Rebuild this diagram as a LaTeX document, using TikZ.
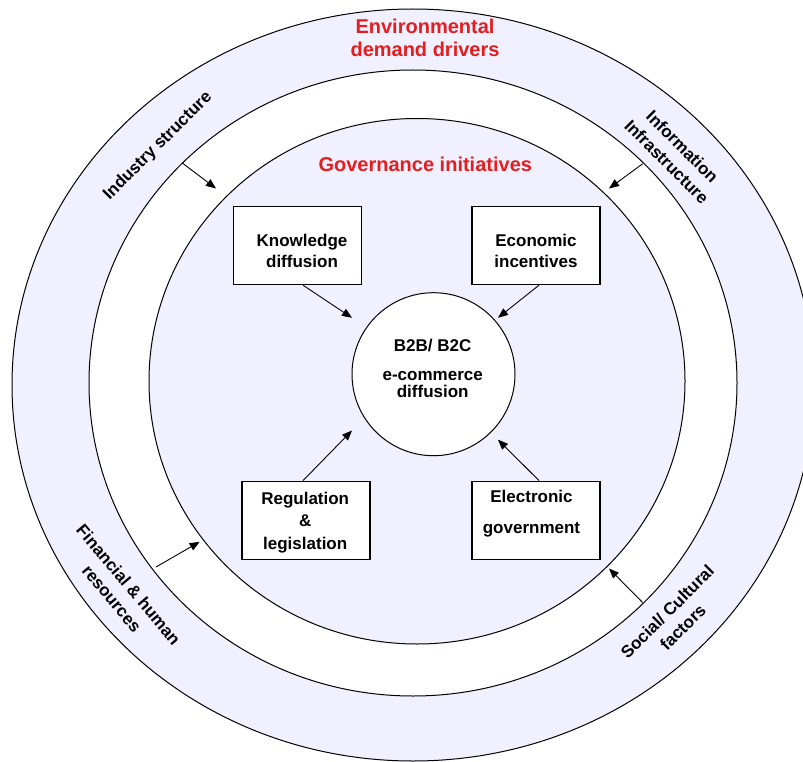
\documentclass[tikz,border=0pt]{standalone}
\usepackage{fontspec}
\setmainfont{Liberation Sans}
\usetikzlibrary{arrows.meta}
\definecolor{lav}{RGB}{240,240,255}
\definecolor{redtxt}{RGB}{228,30,30}
\begin{document}
\begin{tikzpicture}[x=1pt,y=-1pt,
  ring/.style={draw=black, line width=1pt},
  box/.style={draw, fill=white, line width=1.1pt, minimum width=128pt, minimum height=78pt, inner sep=0pt},
  btxt/.style={font=\fontsize{17}{21}\selectfont\bfseries, align=center, inner sep=0pt},
  rtxt/.style={font=\fontsize{17}{22}\selectfont\bfseries, align=center, inner sep=0pt},
  redt/.style={font=\fontsize{20}{23}\selectfont\bfseries, text=redtxt, align=center, inner sep=0pt},
  arr/.style={-{Triangle[length=10pt,width=8pt]}, line width=0.9pt}]
\useasboundingbox (0,0) rectangle (803,762);
\begin{scope}
  \clip (0,0) rectangle (803,762);
  \draw[ring, fill=lav] (413,385) ellipse [x radius=401pt, y radius=376pt];
\end{scope}
\draw[ring, fill=white] (413,383) ellipse [x radius=324pt, y radius=313pt];
\draw[ring, fill=lav] (417,381.25) ellipse [x radius=268pt, y radius=262.75pt];

% centre circle
\node[circle, draw, fill=white, line width=1pt, minimum size=163pt, inner sep=0pt] (hub) at (433.5,374.2) {};
\node[btxt, font=\fontsize{17}{17.6}\selectfont\bfseries] (hubt) at (432.7,368.3) {B2B/ B2C\\[11.4pt]e-commerce\\diffusion};

% boxes
\node[box] (kb) at (297.5,245.4) {};
\node[btxt] (kbt) at (302,250.5) {Knowledge\\diffusion};
\node[box] (eb) at (536,245.4) {};
\node[btxt] (ebt) at (536,250.5) {Economic\\incentives};
\node[box] (rb) at (306,520.2) {};
\node[btxt, font=\fontsize{17}{22.5}\selectfont\bfseries] (rbt) at (305.2,522.5) {Regulation\\\&\\legislation};
\node[box] (gb) at (536,520.2) {};
\node[btxt] (gbt) at (531.5,513.4) {Electronic\\[9.7pt]government};

% red titles
\node[redt] (env) at (425,37.5) {Environmental\\demand drivers};
\node[redt] (gov) at (425.3,164.3) {Governance initiatives};

% ring labels
\node[rtxt, rotate=45] (ind) at (158,146) {Industry structure};
\node[rtxt, rotate=-45] (inf) at (674.6,154.2) {Information\\Infrastructure};
\node[rtxt, rotate=-50] (fin) at (120.3,591.6) {Financial \& human\\resources};
\node[rtxt, rotate=45] (soc) at (675,619.5) {Social/ Cultural\\factors};

% connector end points
\coordinate (kbS) at (303,285.2);  \coordinate (kbE) at (352,317.8);
\coordinate (ebS) at (539,285.2);  \coordinate (ebE) at (498,317.8);
\coordinate (rbS) at (303,480.6);  \coordinate (rbE) at (352,430.5);
\coordinate (gbS) at (539,480.6);  \coordinate (gbE) at (498,439.7);
\coordinate (indS) at (182,162.8); \coordinate (indE) at (216,188.5);
\coordinate (infS) at (642.6,163.8); \coordinate (infE) at (609,188.5);
\coordinate (finS) at (156,567);   \coordinate (finE) at (199.7,541.8);
\coordinate (socS) at (642.6,602.5); \coordinate (socE) at (609,568.5);

\draw[arr] (kbS) -- (kbE);
\draw[arr] (ebS) -- (ebE);
\draw[arr] (rbS) -- (rbE);
\draw[arr] (gbS) -- (gbE);
\draw[arr] (indS) -- (indE);
\draw[arr] (infS) -- (infE);
\draw[arr] (finS) -- (finE);
\draw[arr] (socS) -- (socE);
\end{tikzpicture}
\end{document}
